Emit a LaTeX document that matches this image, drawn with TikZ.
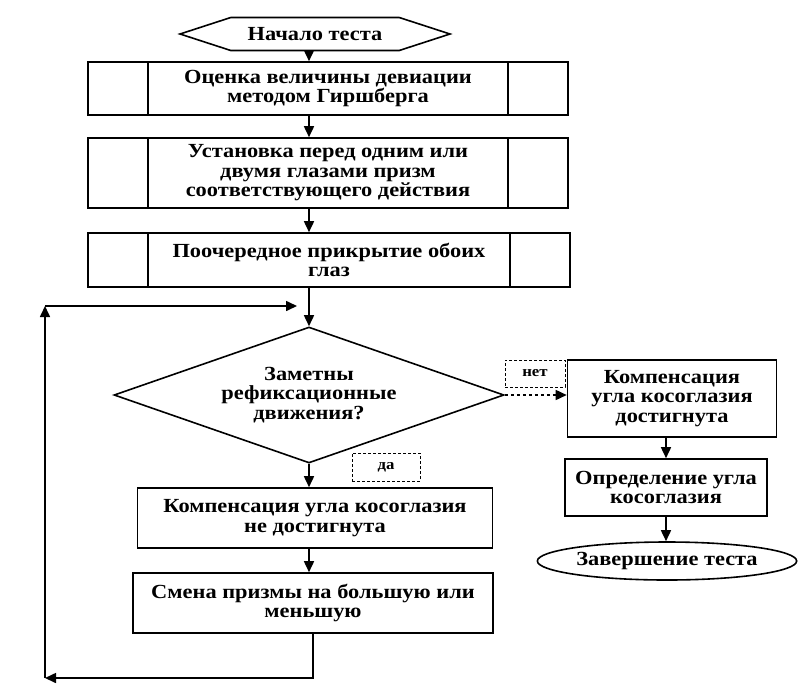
\documentclass[tikz,border=0pt]{standalone}
\usepackage{fontspec}
\setmainfont{Liberation Serif}[FakeStretch=1.12]
\usetikzlibrary{shapes.geometric, shapes.symbols, arrows.meta, positioning, calc}

\begin{document}
\begin{tikzpicture}[x=1pt, y=-1pt, line width=1.6pt, font=\bfseries\fontsize{20}{19.5}\selectfont]
  \useasboundingbox (0,0) rectangle (800,691);
  \tikzset{
    pbox/.style={
      draw, rectangle, minimum width=480pt, minimum height=53pt,
      align=center, inner sep=2pt,
      path picture={
        \draw[line width=1.6pt] ([xshift=60pt]path picture bounding box.north west)
          -- ([xshift=60pt]path picture bounding box.south west);
        \draw[line width=1.6pt] ([xshift=-60pt]path picture bounding box.north east)
          -- ([xshift=-60pt]path picture bounding box.south east);
      }
    },
    sbox/.style={draw, rectangle, align=center, inner sep=2pt},
    lbl/.style={draw, densely dashed, line width=1pt, inner sep=1pt,
      font=\bfseries\fontsize{15}{15}\selectfont},
    arr/.style={-{Triangle[length=11pt, width=10pt]}}
  }
  % main column
  \node[draw, signal, signal to=west and east, signal pointer angle=36,
    minimum width=270pt, minimum height=33pt, inner sep=1pt] (start) at (315,34) {Начало теста};
  \node[pbox] (box1) at (328,88.5) {Оценка величины девиации\\методом Гиршберга};
  \node[pbox, minimum height=70pt] (box2) at (328,173) {Установка перед одним или\\двумя глазами призм\\соответствующего действия};
  \node[pbox, minimum width=482pt, minimum height=54pt] (box3) at (329,260) {Поочередное прикрытие обоих\\глаз};
  \node[draw, diamond, aspect=2.87, minimum width=390pt, minimum height=136pt,
    inner sep=0pt, align=center] (dia) at (309,395) {Заметны\\рефиксационные\\движения?};
  \node[sbox, minimum width=355pt, minimum height=60pt] (box4) at (315,518) {Компенсация угла косоглазия\\не достигнута};
  \node[sbox, minimum width=360pt, minimum height=60pt] (box5) at (313,603) {Смена призмы на большую или\\меньшую};
  % right branch
  \node[sbox, minimum width=209pt, minimum height=77pt] (rbox1) at (672,398.5) {Компенсация\\угла косоглазия\\достигнута};
  \node[sbox, minimum width=202pt, minimum height=57pt] (rbox2) at (666,487.5) {Определение угла\\косоглазия};
  \node[draw, ellipse, minimum width=235pt, minimum height=38pt, inner sep=1pt] (fin) at (667,561) {Завершение теста};
  % branch labels
  \node[lbl, minimum width=60pt, minimum height=27pt] (no) at (535,373.5) {нет};
  \node[lbl, minimum width=68pt, minimum height=28pt] (yes) at (386,467) {да};
  % flow arrows
  \foreach \from/\to in {start/box1, box1/box2, box2/box3, box3/dia, dia/box4, box4/box5}{
    \draw[arr] (\from.south -| dia.north) -- (\to.north -| dia.north);
  }
  \foreach \from/\to in {rbox1/rbox2, rbox2/fin}{
    \draw[arr] (\from.south -| rbox2) -- (\to.north -| rbox2);
  }
  \draw[arr, dashed] (dia.east) -- (dia.east -| rbox1.west);
  % loop back
  \coordinate (lb) at (45,678);
  \coordinate (lt) at (45,306);
  \coordinate (le) at (297,306);
  \draw[arr] (box5.south) |- (lb);
  \draw[arr] (lb) -- (lt);
  \draw[arr] (lt) -- (le);
\end{tikzpicture}
\end{document}
